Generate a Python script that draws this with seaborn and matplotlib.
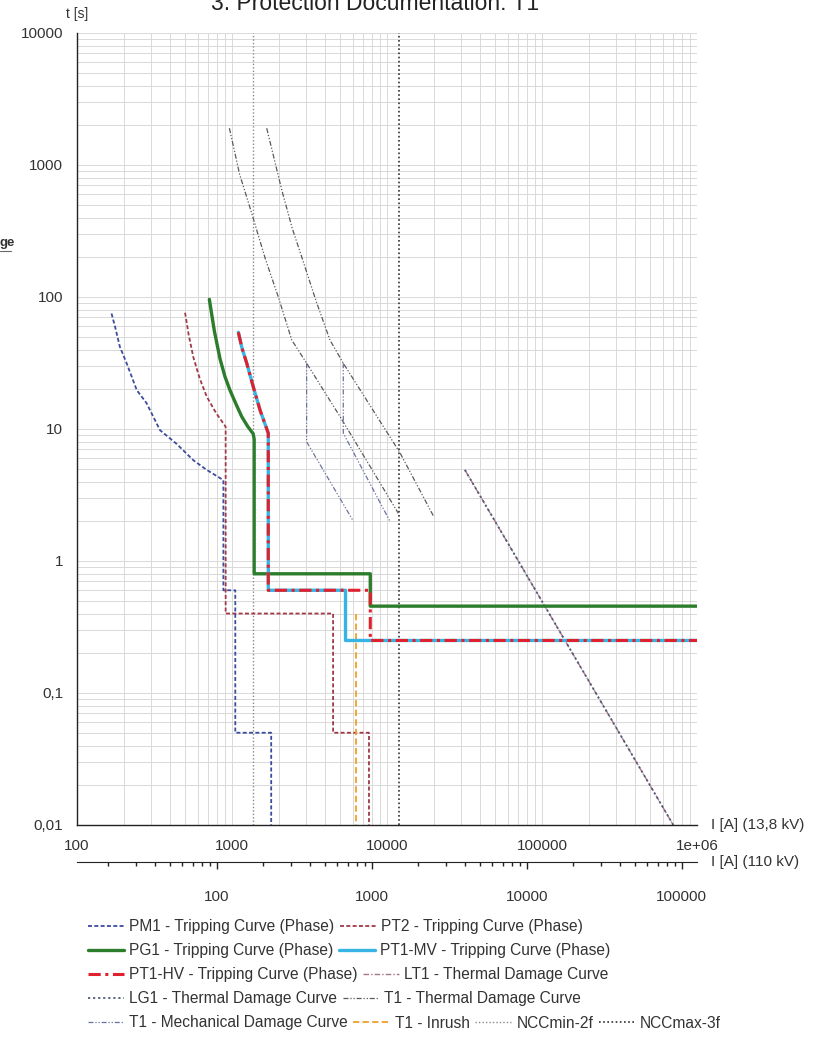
import matplotlib
matplotlib.use("Agg")
import matplotlib.pyplot as plt
import matplotlib.ticker as mticker
from matplotlib.lines import Line2D
import seaborn as sns

# ---------------- data (I in A at 13.8 kV, t in s) ----------------
pm1_i = [167, 176, 189, 209, 243, 281, 343, 440, 563, 687, 880, 880, 1050, 1050, 1790, 1790]
pm1_t = [75, 59.6, 42, 31.5, 19.7, 15.7, 9.8, 7.7, 5.8, 4.9, 4.1, 0.6, 0.6, 0.05, 0.05, 0.01]

pt2_i = [498, 525, 563, 620, 687, 790, 910, 910, 4490, 4490, 7650, 7650]
pt2_t = [76, 52, 35, 24, 17.6, 13.2, 10.4, 0.4, 0.4, 0.05, 0.05, 0.01]

pg1_i = [714, 770, 837, 900, 970, 1060, 1156, 1260, 1370, 1390, 1390, 7800, 7800, 1e6]
pg1_t = [96, 55, 34, 25, 19.7, 15.5, 12.4, 10.5, 9.2, 8.4, 0.8, 0.8, 0.455, 0.455]

pt1_curve_i = [1099, 1160, 1245, 1371, 1517, 1714]
pt1_curve_t = [54, 41, 31.5, 20.9, 13.9, 9.3]
pt1mv_i = pt1_curve_i + [1714, 5400, 5400, 1e6]
pt1mv_t = pt1_curve_t + [0.6, 0.6, 0.25, 0.25]
pt1hv_i = pt1_curve_i + [1714, 7800, 7800, 1e6]
pt1hv_t = pt1_curve_t + [0.6, 0.6, 0.25, 0.25]

# LT1 / LG1 thermal damage (I2t lines, on top of each other)
lt1_i = [31800, 703000]
lt1_t = [4.9, 0.01]
lg1_i = [31800, 703000]
lg1_t = [4.9, 0.01]

# T1 thermal damage (two curves) and mechanical damage (two curves)
t1_th_a_i = [962, 1120, 1340, 1640, 1990, 2430, 3030, 4980, 11830]
t1_th_a_t = [1900, 850, 431, 195, 100, 47.2, 31.5, 12.4, 2.3]
t1_th_b_i = [1675, 2094, 2450, 2884, 3500, 4285, 5224, 12130, 19900]
t1_th_b_t = [1900, 647, 330, 185, 92, 47.2, 31.5, 6.6, 2.2]
t1_me_a_i = [3030, 3030, 6070]
t1_me_a_t = [31.5, 8.0, 2.0]
t1_me_b_i = [5224, 5224, 10450]
t1_me_b_t = [31.5, 9.3, 2.0]

inrush_i = [6300, 6300]
inrush_t = [0.4, 0.01]

ncc_min = 1365
ncc_max = 12000

kv_ratio = 13.8 / 110
sec_major = [100, 1000, 10000, 100000]

# ---------------- figure ----------------
sns.set_style("white")
plt.rcParams["font.family"] = ["Liberation Sans", "DejaVu Sans"]
plt.rcParams["font.size"] = 11

fig = plt.figure(figsize=(8.15, 10.37), dpi=100)
ax = fig.add_axes([77 / 815, 1 - 825 / 1037, 620 / 815, 792 / 1037])
ax.set_xscale("log")
ax.set_yscale("log")

handles = {}
dash_dot2 = (0, (4, 1.5, 1, 1.5, 1, 1.5))


def draw(xs, ys, label, color, lw, ls, legend=True):
    sns.lineplot(x=xs, y=ys, sort=False, estimator=None, ax=ax,
                 color=color, lw=lw, linestyle=ls)
    if legend:
        handles[label] = ax.lines[-1]


draw(lt1_i, lt1_t, "LT1 - Thermal Damage Curve", "#a87888", 1.0, (0, (4, 1.5, 1, 1.5)))
draw(lg1_i, lg1_t, "LG1 - Thermal Damage Curve", "#505a78", 1.3, (0, (1.2, 1.6)))
draw(t1_th_a_i, t1_th_a_t, "T1 - Thermal Damage Curve", "#5a5a5a", 0.9, dash_dot2)
draw(t1_th_b_i, t1_th_b_t, "T1 - Thermal Damage Curve", "#5a5a5a", 0.9, dash_dot2, legend=False)
draw(t1_me_a_i, t1_me_a_t, "T1 - Mechanical Damage Curve", "#6a72a0", 0.9, dash_dot2)
draw(t1_me_b_i, t1_me_b_t, "T1 - Mechanical Damage Curve", "#6a72a0", 0.9, dash_dot2, legend=False)

ax.axvline(ncc_min, color="#8a8a8a", lw=1.0, linestyle=(0, (1, 1.5)))
handles["NCCmin-2f"] = ax.lines[-1]
ax.axvline(ncc_max, color="#303030", lw=1.2, linestyle=(0, (1, 1.5)))
handles["NCCmax-3f"] = ax.lines[-1]

draw(pm1_i, pm1_t, "PM1 - Tripping Curve (Phase)", "#3c4c9c", 1.3, (0, (2.2, 1.3)))
draw(pt2_i, pt2_t, "PT2 - Tripping Curve (Phase)", "#a03848", 1.3, (0, (2.2, 1.3)))
draw(inrush_i, inrush_t, "T1 - Inrush", "#f0a028", 1.3, (0, (3.5, 1.8)))
draw(pg1_i, pg1_t, "PG1 - Tripping Curve (Phase)", "#2b7d2b", 2.4, "-")
draw(pt1mv_i, pt1mv_t, "PT1-MV - Tripping Curve (Phase)", "#38b4e4", 2.4, "-")
draw(pt1hv_i, pt1hv_t, "PT1-HV - Tripping Curve (Phase)", "#e0202c", 2.2, (0, (4, 1.5, 1, 1.5)))

ax.set_xlim(100, 1e6)
ax.set_ylim(0.01, 10000)
ax.set_xlabel("")
ax.set_ylabel("")

# grid and spines
ax.set_axisbelow(True)
ax.grid(True, which="both", color="#d9d9d9", lw=0.7)
for side in ["top", "right"]:
    ax.spines[side].set_visible(False)
for side in ["left", "bottom"]:
    ax.spines[side].set_color("#222222")
    ax.spines[side].set_linewidth(1.0)

fmt = mticker.FuncFormatter(lambda v, _: f"{v:g}".replace(".", ","))
ax.xaxis.set_major_locator(mticker.LogLocator(base=10, numticks=10))
ax.xaxis.set_minor_locator(mticker.LogLocator(base=10, subs=range(2, 10), numticks=20))
ax.yaxis.set_major_locator(mticker.LogLocator(base=10, numticks=10))
ax.yaxis.set_minor_locator(mticker.LogLocator(base=10, subs=range(2, 10), numticks=20))
ax.xaxis.set_major_formatter(fmt)
ax.yaxis.set_major_formatter(fmt)
ax.xaxis.set_minor_formatter(mticker.NullFormatter())
ax.yaxis.set_minor_formatter(mticker.NullFormatter())
ax.tick_params(which="major", direction="out", length=5, width=1, color="#222222",
               labelsize=11, labelcolor="#333333", pad=5)
ax.tick_params(which="minor", direction="out", length=3, width=1, color="#222222")

# second current axis (110 kV side)
sec = ax.secondary_xaxis(-37 / 792, functions=(lambda x: x * kv_ratio, lambda x: x / kv_ratio))
sec.xaxis.set_major_locator(mticker.FixedLocator(sec_major))
sec.xaxis.set_minor_locator(mticker.LogLocator(base=10, subs=range(2, 10), numticks=20))
sec.xaxis.set_major_formatter(fmt)
sec.xaxis.set_minor_formatter(mticker.NullFormatter())
sec.tick_params(which="major", direction="out", length=5, width=1, color="#222222",
                labelsize=11, labelcolor="#333333", pad=15)
sec.tick_params(which="minor", direction="out", length=3, width=1, color="#222222")
sec.spines["bottom"].set_color("#222222")

ax.text(1.022, 0, "I [A] (13,8 kV)", transform=ax.transAxes, ha="left", va="center",
        fontsize=11, color="#333333")
ax.text(1.022, -37 / 792, "I [A] (110 kV)", transform=ax.transAxes, ha="left", va="center",
        fontsize=11, color="#333333")
ax.text(0, 1.015, "t [s]", transform=ax.transAxes, ha="center", va="bottom",
        fontsize=10, color="#333333")

fig.text(375 / 815, 1 - 9.5 / 1037, "3. Protection Documentation: T1", ha="center",
         va="baseline", fontsize=16.5, color="#222222")
fig.text(0.0, 1 - 243 / 1037, "ge", ha="left", va="center", fontsize=9.5,
         fontweight="bold", color="#333333")
fig.add_artist(Line2D([0, 11 / 815], [1 - 251 / 1037] * 2, transform=fig.transFigure,
                      color="#666666", lw=0.8))

# legend rows (flow layout)
rows = [
    ["PM1 - Tripping Curve (Phase)", "PT2 - Tripping Curve (Phase)"],
    ["PG1 - Tripping Curve (Phase)", "PT1-MV - Tripping Curve (Phase)"],
    ["PT1-HV - Tripping Curve (Phase)", "LT1 - Thermal Damage Curve"],
    ["LG1 - Thermal Damage Curve", "T1 - Thermal Damage Curve"],
    ["T1 - Mechanical Damage Curve", "T1 - Inrush", "NCCmin-2f", "NCCmax-3f"],
]
row_y = [927, 951, 975, 999, 1023]
for labels, y in zip(rows, row_y):
    fig.legend([handles[l] for l in labels], labels, loc="center left",
               bbox_to_anchor=(88 / 815, 1 - y / 1037), ncol=len(labels),
               frameon=False, fontsize=11.2, handlelength=2.3, handletextpad=0.35,
               columnspacing=0.35, borderpad=0, borderaxespad=0, labelcolor="#333333")

fig.savefig("out.png", dpi=100)
